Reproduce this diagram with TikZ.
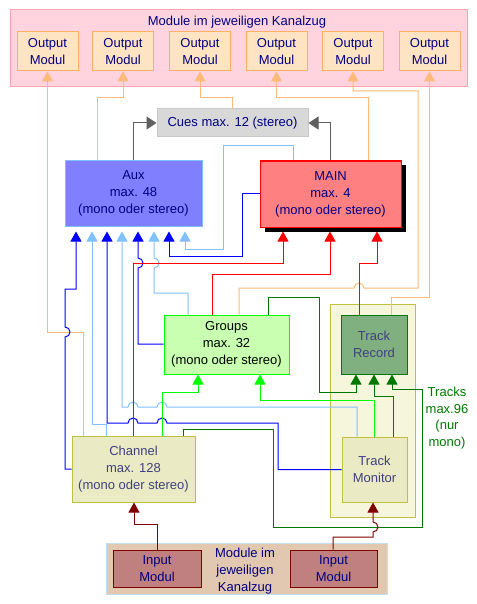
\documentclass[tikz,border=0pt]{standalone}
\usepackage{fontspec}
\setmainfont{Liberation Sans}
\usetikzlibrary{arrows.meta}
\definecolor{navy}{RGB}{0,0,128}
\definecolor{dimnavy}{RGB}{64,64,128}
\definecolor{pinkb}{RGB}{255,160,176}
\definecolor{pinkf}{RGB}{255,212,222}
\definecolor{orb}{RGB}{255,176,100}
\definecolor{orf}{RGB}{255,228,196}
\definecolor{lor}{RGB}{255,185,120}
\definecolor{cuesb}{RGB}{200,200,200}
\definecolor{cuesf}{RGB}{216,216,216}
\definecolor{auxb}{RGB}{128,192,255}
\definecolor{auxf}{RGB}{128,128,255}
\definecolor{mainf}{RGB}{255,128,128}
\definecolor{grpf}{RGB}{200,255,176}
\definecolor{olb}{RGB}{192,192,64}
\definecolor{olf}{RGB}{234,234,196}
\definecolor{contf}{RGB}{246,246,220}
\definecolor{trecf}{RGB}{128,176,128}
\definecolor{dgreen}{RGB}{0,120,0}
\definecolor{botb}{RGB}{192,224,240}
\definecolor{botf}{RGB}{226,200,176}
\definecolor{inb}{RGB}{128,0,0}
\definecolor{inf}{RGB}{192,128,128}
\definecolor{lgr}{RGB}{96,96,96}
\definecolor{lblue}{RGB}{0,0,255}
\definecolor{llb}{RGB}{128,192,255}
\definecolor{lred}{RGB}{255,0,0}
\definecolor{lgreen}{RGB}{0,255,0}
\definecolor{ldr}{RGB}{128,0,0}
\newcommand\myfs{\fontsize{13}{17}\selectfont}
\begin{document}
\begin{tikzpicture}[x=1pt,y=-1pt,line width=1pt,
  box/.style={rectangle,draw,inner sep=0pt,align=center,font=\myfs,text=navy},
  obox/.style={box,draw=orb,fill=orf,minimum width=61pt,minimum height=39pt},
  inbox/.style={box,draw=inb,fill=inf,minimum width=88pt,minimum height=37pt},
  arr/.style={-{Triangle[length=10pt,width=11pt]}},
  harr/.style={-{Triangle[length=10pt,width=13pt]}},
  wor/.style={draw=lor},
  wgr/.style={draw=lgr},
  wbl/.style={draw=lblue},
  wlb/.style={draw=llb},
  wrd/.style={draw=lred},
  wgn/.style={draw=lgreen},
  wdg/.style={draw=dgreen},
  wdr/.style={draw=ldr}]
\useasboundingbox (0,0) rectangle (476,604);
% frames and boxes
\node[box,draw=pinkb,fill=pinkf,minimum width=457pt,minimum height=77pt] (top) at (238.5,48.5) {};
\node[font=\myfs,text=navy] (toptitle) at (237,22) {Module im jeweiligen Kanalzug};
\foreach \i/\x in {1/47.5,2/123,3/200,4/276.5,5/353,6/429.5}
  \node[obox] (o\i) at (\x,51.5) {Output\\Modul};
\node[box,draw=cuesb,fill=cuesf,minimum width=151pt,minimum height=28pt] (cues) at (232.5,123) {Cues max. 12 (stereo)};
\node[box,draw=auxb,fill=auxf,minimum width=137pt,minimum height=65pt] (aux) at (133.5,193.5) {Aux\\max. 48\\(mono oder stereo)};
\fill[black] (265,165) rectangle (405.5,231.5);
\node[box,draw=lred,fill=mainf,minimum width=141pt,minimum height=66pt] (main) at (330.5,194) {MAIN\\max. 4\\(mono oder stereo)};
\node[box,draw=lgreen,fill=grpf,text=black,minimum width=125pt,minimum height=59pt] (groups) at (226.5,344.5) {Groups\\max. 32\\(mono oder stereo)};
\node[box,draw=olb,fill=contf,minimum width=85pt,minimum height=213pt] (cont) at (372.5,410.5) {};
\node[box,draw=dgreen,fill=trecf,text=dimnavy,minimum width=66pt,minimum height=59pt] (trec) at (374,344.5) {Track\\Record};
\node[box,draw=olb,fill=olf,text=dimnavy,minimum width=65pt,minimum height=65pt] (tmon) at (374.5,469.5) {Track\\Monitor};
\node[box,draw=olb,fill=olf,text=dimnavy,minimum width=123pt,minimum height=66pt] (chan) at (133.5,469) {Channel\\max. 128\\(mono oder stereo)};
\node[font=\fontsize{13}{16.7}\selectfont,text=dgreen,align=center] (tracks) at (447,418) {Tracks\\max.96\\(nur\\mono)};
\node[box,draw=botb,fill=botf,minimum width=281pt,minimum height=51pt] (bot) at (246.5,568.5) {};
\node[inbox] (inl) at (157,568.5) {Input\\Modul};
\node[inbox,minimum width=87pt] (inr) at (333.5,568.5) {Input\\Modul};
\node[font=\myfs,text=navy,align=center] (bottitle) at (245,571) {Module im\\jeweiligen\\Kanalzug};
% orange: to output modules
\draw[wor,arr] (chan.north -| 83,0) |- (o1.south |- 0,332) -- (o1.south);
\draw[wor,arr] (aux.north -| 97,0) |- (o2.south |- 0,98) -- (o2.south);
\draw[wor,arr] (cues.north -| 232,0) |- (o3.south |- 0,98) -- (o3.south);
\draw[wor,arr] (main.north -| 368,0) |- (o4.south |- 0,98) -- (o4.south);
\draw[wor,arr] (groups.north -| 239,0) -- (239,288) -- (354,288) arc[start angle=180,end angle=360,radius=5] -- (418,288) |- (o5.south |- 0,91) -- (o5.south);
\draw[wor,arr] (trec.north -| 391,0) |- (o6.south |- 0,297) -- (o6.south);
% grey: to cues
\draw[wgr,harr] (aux.north -| 133,0) |- (cues.west);
\draw[wgr,harr] (main.north -| 330,0) |- (cues.east);
% aux inputs
\draw[wbl,arr,shorten >=5pt] (chan.west) -- (65,469) -- (65,337) arc[start angle=90,end angle=-90,radius=5] -- (65,289) -- (76,289) -- (76,0 |- aux.south);
\draw[wlb,arr,shorten >=5pt] (chan.north -| 106,0) -- (106,424) -- (92,424) -- (92,0 |- aux.south);
\draw[wbl,arr,shorten >=5pt] (tmon.west) -- (278,469.5) -- (278,423) -- (167,423) arc[start angle=0,end angle=-180,radius=5] -- (138,423) arc[start angle=0,end angle=-180,radius=5] -- (107,423) -- (107,0 |- aux.south);
\draw[wlb,arr,shorten >=5pt] (tmon.north -| 357,0) -- (357,407) -- (167,407) arc[start angle=0,end angle=-180,radius=5] -- (138,407) arc[start angle=0,end angle=-180,radius=5] -- (122,407) -- (122,0 |- aux.south);
\draw[wbl,arr,shorten >=5pt] (groups.west |- 0,344) -- (138,344) -- (138,268) arc[start angle=90,end angle=-90,radius=5] -- (138,0 |- aux.south);
\draw[wlb,arr,shorten >=5pt] (groups.north -| 188,0) -- (188,293) -- (154,293) -- (154,268) arc[start angle=90,end angle=-90,radius=5] -- (154,0 |- aux.south);
\draw[wbl,arr,shorten >=5pt] (main.west |- 0,193) -- (242,193) -- (242,256) -- (169,256) -- (169,0 |- aux.south);
\draw[wlb,arr,shorten >=5pt] (main.north -| 293,0) -- (293,146) -- (223,146) -- (223,249) -- (185,249) -- (185,0 |- aux.south);
% main inputs
\draw[wrd,arr,shorten >=4pt] (chan.north -| 133,0) -- (133,263) -- (283,263) -- (283,0 |- main.south);
\draw[wrd,arr,shorten >=4pt] (groups.north -| 212,0) -- (212,274) -- (330,274) -- (330,0 |- main.south);
\draw[wrd,arr,shorten >=4pt] (trec.north -| 359,0) -- (359,263) -- (377,263) -- (377,0 |- main.south);
% groups inputs
\draw[wgn,arr] (chan.north -| 162,0) -- (162,392) -- (198,392) -- (198,0 |- groups.south);
\draw[wgn,arr] (tmon.north -| 374,0) -- (374,400) -- (260,400) -- (260,0 |- groups.south);
% track record inputs
\draw[wdg,arr] (groups.north -| 268,0) -- (268,297) -- (319,297) -- (319,392) -- (356,392) -- (356,0 |- trec.south);
\draw[wdg,arr] (tmon.north -| 393,0) -- (393,396) -- (374,396) -- (374,0 |- trec.south);
\draw[wdg,arr] (chan.north -| 183,0) -- (183,429) -- (273,429) -- (273,527) -- (422,527) -- (422,389) -- (392,389) -- (392,0 |- trec.south);
% input modules
\draw[wdr,arr] (inl.north -| 157,0) -- (157,524) -- (134,524) -- (134,0 |- chan.south);
\draw[wdr,arr] (inr.north -| 333,0) -- (333,537) -- (373,537) -- (373,532) arc[start angle=90,end angle=-90,radius=5] -- (373,0 |- tmon.south);
\end{tikzpicture}
\end{document}
